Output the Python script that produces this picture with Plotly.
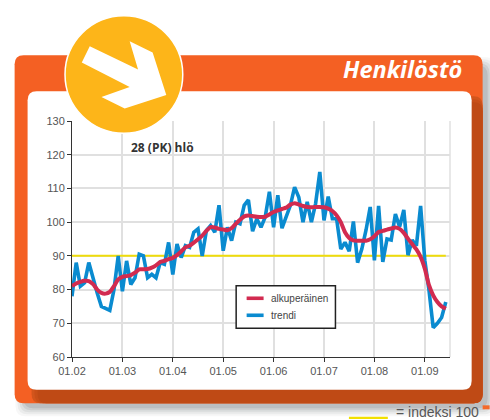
import plotly.graph_objects as go

year_labels = ["01.02", "01.03", "01.04", "01.05", "01.06", "01.07", "01.08", "01.09"]
year_ticks = [0, 12, 24, 36, 48, 60, 72, 84]
y_ticks = [60, 70, 80, 90, 100, 110, 120, 130]
index_level = 90
chart_note = "28 (PK) hlö"
panel_title = "Henkilöstö"
index_note = "= indeksi 100"
series_names = ["alkuperäinen", "trendi"]
series_colors = ["#D22B50", "#0A8BD0"]

trendi = [78, 88, 81, 82, 88, 83, 79, 75, 74.5, 73.8, 80, 90, 79.5, 88.5, 81.5, 83.5, 90.5, 90,
          83.5, 84.5, 83.5, 88, 87.5, 94, 84.5, 93.5, 89.5, 93, 92.5, 97, 98, 90, 97.5, 99, 97,
          105, 91.5, 98.5, 94.5, 100, 99.5, 105, 106.6, 97.3, 101, 98.5, 101.5, 109, 98.5, 108,
          98.2, 102, 105, 110.4, 107.4, 100, 106, 100, 105.5, 114.9, 100.5, 107.6, 101, 101, 92,
          94, 91.4, 100.2, 88, 92, 97.6, 104.5, 88.7, 104.8, 88.2, 95, 94.7, 102.4, 98.6, 103.6,
          90.2, 94.7, 93, 104.8, 88.7, 79.8, 68.7, 70, 71.7, 76.3]
alkuperainen = [81, 81.8, 82.3, 82.6, 82.5, 81.6, 80, 79, 78.8, 79.3, 81, 83, 83.8, 84, 84.3, 85,
                86, 86, 86.1, 86.5, 87.2, 88.2, 88.5, 89, 89.4, 90.2, 91.3, 92.5, 93, 93.9, 94.9,
                96, 97.4, 98.5, 98.4, 98, 97.8, 97.6, 98.2, 99.5, 100.7, 101.7, 102, 101.8, 101.6,
                101.5, 101.6, 102.3, 103, 103.5, 103.9, 104.3, 105.2, 105.6, 105.2, 104.8, 104.5,
                104.4, 104.5, 104.5, 104.4, 104, 103.3, 102, 100, 97, 95.3, 94.6, 94.5, 94.5, 94.5,
                94.9, 95.8, 97.1, 97.4, 97.8, 98.1, 98.4, 98, 96.8, 95.1, 93.5, 91.9, 89.7, 86.2,
                81.3, 78.3, 76.3, 75, 74.3]
months = list(range(len(trendi)))

L, R, T, B = 71.5, 450.3, 120.8, 356.7
W, H = 490, 420


def fx(px):
    return (px - L) / (R - L)


def fy(py):
    return (B - py) / (B - T)


def rrect(x0, y0, x1, y1, r):
    pts = [("M", x0 + r, y0), ("L", x1 - r, y0), ("Q", x1, y0, x1, y0 + r), ("L", x1, y1 - r),
           ("Q", x1, y1, x1 - r, y1), ("L", x0 + r, y1), ("Q", x0, y1, x0, y1 - r),
           ("L", x0, y0 + r), ("Q", x0, y0, x0 + r, y0)]
    out = ""
    for p in pts:
        out += p[0]
        vals = p[1:]
        out += " ".join(f"{fx(vals[i]):.5f},{fy(vals[i + 1]):.5f}" for i in range(0, len(vals), 2)) + " "
    return out + "Z"


def poly(points):
    return "M" + " L".join(f"{fx(a):.5f},{fy(b):.5f}" for a, b in points) + " Z"


def pshape(path, color, layer="below", opacity=1.0):
    return dict(type="path", xref="paper", yref="paper", path=path, fillcolor=color,
                line=dict(width=0), layer=layer, opacity=opacity)


shapes = []
for grow, op in [(9, 0.05), (7, 0.07), (5, 0.09), (3, 0.12), (1, 0.15)]:
    shapes.append(pshape(rrect(24 - grow, 66 - grow, 487 + grow, 407 + grow, 10), "#5a6068", opacity=op))
shapes.append(pshape(rrect(14, 55, 483, 403, 9), "#F46023"))
for inset, col in [(0, "#D2551C"), (3, "#C84F18"), (6, "#BF4A15")]:
    shapes.append(pshape(rrect(31 + inset, 96 + inset, 483, 403, 9), col))
shapes.append(pshape(rrect(27, 91, 472, 389.5, 9), "#FFFFFF"))
shapes.append(dict(type="line", xref="paper", yref="paper", x0=1, x1=1, y0=0, y1=1,
                   line=dict(color="#E0E0E0", width=1.5), layer="below"))
shapes.append(pshape(poly([(483, 405), (490, 405), (490, 409), (483, 409)]), "#F46A2A"))
shapes.append(dict(type="line", xref="paper", yref="paper", x0=fx(349), x1=fx(388), y0=fy(417.5), y1=fy(417.5),
                   line=dict(color="#F2E000", width=2.2), layer="above"))
shapes.append(dict(type="circle", xref="paper", yref="paper", x0=fx(64.5), x1=fx(182.5), y0=fy(15.5), y1=fy(133),
                   fillcolor="#FDB519", line=dict(color="#FFFFFF", width=1.5), layer="above"))
shapes.append(pshape(poly([(89.3, 46), (137.7, 69.3), (129.3, 41), (152.3, 52.3), (166, 94.7),
                           (124.3, 108.3), (101, 96.7), (129.3, 86.7), (81.3, 62.3)]), "#FFFFFF", layer="above"))
# legend box and keys
shapes.append(dict(type="rect", xref="paper", yref="paper", x0=fx(236), x1=fx(335.5), y0=fy(285.5), y1=fy(328),
                   fillcolor="#FFFFFF", line=dict(color="#222222", width=1.5), layer="above"))
legend_rows = [298, 315]
for ky, kc in zip(legend_rows, series_colors):
    shapes.append(dict(type="line", xref="paper", yref="paper", x0=fx(246.5), x1=fx(263.5), y0=fy(ky), y1=fy(ky),
                       line=dict(color=kc, width=3.6), layer="above"))

fig = go.Figure()
fig.add_trace(go.Scatter(x=months, y=[index_level] * len(months), mode="lines", showlegend=False,
                         line=dict(color="#EFDC0A", width=2), hoverinfo="skip"))
fig.add_trace(go.Scatter(x=months, y=trendi, mode="lines", name=series_names[1], showlegend=False,
                         line=dict(color=series_colors[1], width=3.6)))
fig.add_trace(go.Scatter(x=months, y=alkuperainen, mode="lines", name=series_names[0], showlegend=False,
                         line=dict(color=series_colors[0], width=4, shape="spline", smoothing=0.6)))

font = "Liberation Sans, sans-serif"
annotations = [
    dict(text=f"<b>{chart_note}</b>", xref="paper", yref="paper", x=fx(129), y=fy(147), xanchor="left",
         yanchor="middle", showarrow=False, font=dict(family="Open Sans, sans-serif", size=12, color="#333333")),
    dict(text=f"<i><b>{panel_title}</b></i>", xref="paper", yref="paper", x=fx(464), y=fy(69), xanchor="right",
         yanchor="middle", showarrow=False, font=dict(family="Open Sans, sans-serif", size=23.5, color="#FFFFFF")),
    dict(text=index_note, xref="paper", yref="paper", x=fx(394), y=fy(412), xanchor="left",
         yanchor="middle", showarrow=False, font=dict(family=font, size=14, color="#555555")),
]
for ky, name in zip(legend_rows, series_names):
    annotations.append(dict(text=name, xref="paper", yref="paper", x=fx(269), y=fy(ky), xanchor="left",
                            yanchor="middle", showarrow=False, font=dict(family=font, size=10, color="#444444")))

fig.update_layout(
    width=W, height=H, autosize=False, paper_bgcolor="#FFFFFF", plot_bgcolor="rgba(0,0,0,0)",
    margin=dict(l=L, r=W - R, t=T, b=H - B, pad=0),
    font=dict(family=font, size=11, color="#555555"),
    shapes=shapes, showlegend=False, annotations=annotations,
    xaxis=dict(range=[0, 90], tickmode="array", tickvals=year_ticks, ticktext=year_labels,
               showgrid=True, gridcolor="#E0E0E0", gridwidth=1.5, zeroline=False,
               showline=True, linecolor="#333333", linewidth=1, ticks="outside", ticklen=4,
               tickcolor="#333333", tickwidth=1, tickfont=dict(size=11, color="#555555")),
    yaxis=dict(range=[60, 130], tickmode="array", tickvals=y_ticks, showgrid=True,
               gridcolor="#E0E0E0", gridwidth=1.5, zeroline=False,
               showline=True, linecolor="#333333", linewidth=1, ticks="outside", ticklen=4,
               tickcolor="#333333", tickwidth=1, tickfont=dict(size=11, color="#555555")),
)
fig.write_html("out.html", config={"displayModeBar": False}, post_script="document.body.style.margin='0';")
